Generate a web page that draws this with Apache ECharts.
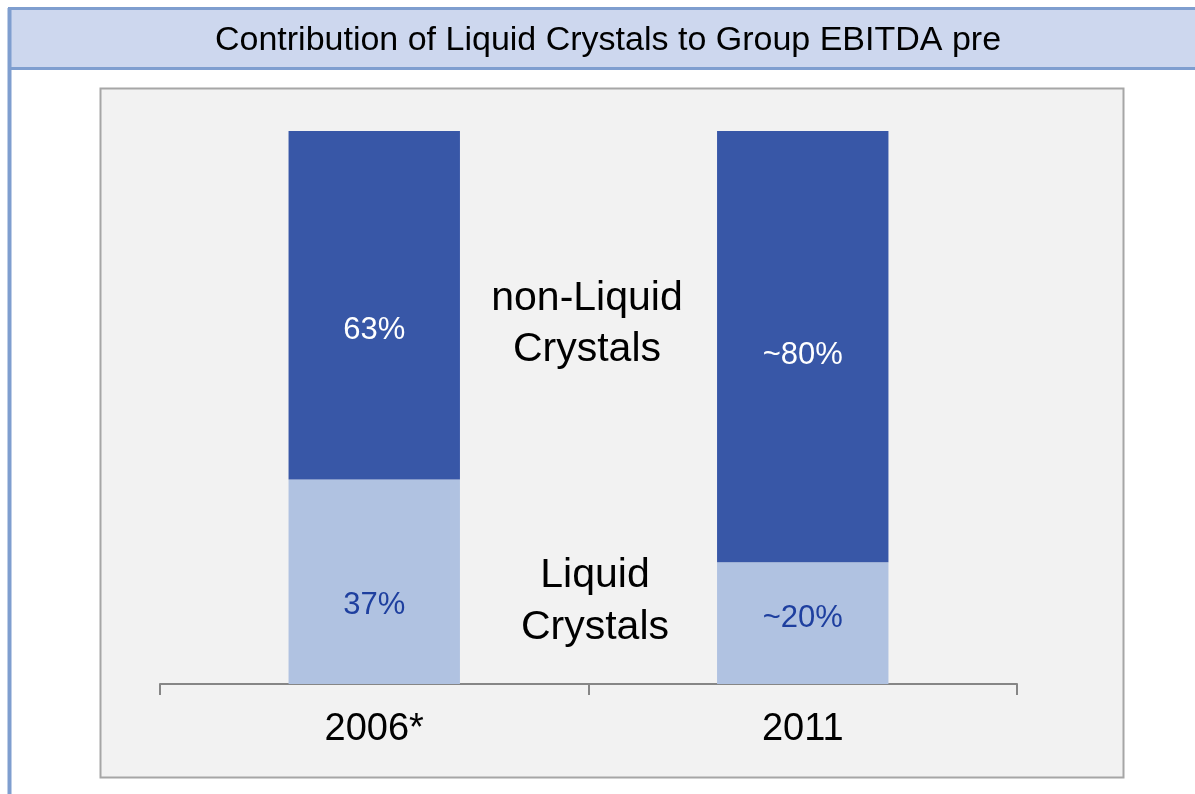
<!DOCTYPE html>
<html>
<head>
<meta charset="utf-8">
<script src="https://cdn.jsdelivr.net/npm/echarts@6/dist/echarts.min.js"></script>
<style>
  html, body { margin: 0; padding: 0; background: #fff; }
  #chart { width: 1195px; height: 794px; }
</style>
</head>
<body>
<div id="chart"></div>
<script>
const categories = ['2006*', '2011'];
const lcShare = [37, 22];
const nonLcShare = [63, 78];
const lcLabels = ['37%', '~20%'];
const nonLcLabels = ['63%', '~80%'];
const titleText = 'Contribution of Liquid Crystals to Group EBITDA pre';

const FONT = '"Liberation Sans", Arial, sans-serif';
const chart = echarts.init(document.getElementById('chart'));

// label offsets (px) so text sits where the original slide has it
const nonLcOffsets = [25, 9];
const lcOffsets = [24, -5];

const option = {
    animation: false,
    backgroundColor: '#ffffff',
    textStyle: { fontFamily: FONT },
    grid: { left: 160, right: 178, top: 131, bottom: 110 },
    xAxis: {
        type: 'category',
        data: categories,
        axisLine: { lineStyle: { color: '#868686', width: 2 } },
        axisTick: { show: true, length: 11, lineStyle: { color: '#868686', width: 2 } },
        axisLabel: { color: '#000', fontSize: 38, fontFamily: FONT, margin: 27 }
    },
    yAxis: { type: 'value', min: 0, max: 100, show: false },
    graphic: [
        // gray plot box
        { type: 'rect', z: -10, shape: { x: 100.5, y: 88.5, width: 1023, height: 689 },
          style: { fill: '#F2F2F2', stroke: '#A6A6A6', lineWidth: 2 } },
        // title bar
        { type: 'rect', z: 10, shape: { x: 9.5, y: 8.5, width: 1200, height: 60 },
          style: { fill: '#CDD7EE', stroke: '#7F9ECF', lineWidth: 3 } },
        // left frame line
        { type: 'line', z: 10, shape: { x1: 9.5, y1: 8, x2: 9.5, y2: 800 },
          style: { stroke: '#7F9ECF', lineWidth: 4 } },
        { type: 'text', z: 11, x: 608, y: 41,
          style: { text: titleText, font: '34px ' + FONT, fill: '#000',
                   textAlign: 'center', textVerticalAlign: 'middle' } },
        { type: 'text', z: 11, x: 587, y: 324,
          style: { text: 'non-Liquid\nCrystals', font: '41px ' + FONT, fill: '#000',
                   lineHeight: 51, textAlign: 'center', textVerticalAlign: 'middle' } },
        { type: 'text', z: 11, x: 595, y: 602,
          style: { text: 'Liquid\nCrystals', font: '41px ' + FONT, fill: '#000',
                   lineHeight: 52, textAlign: 'center', textVerticalAlign: 'middle' } }
    ],
    series: [
        {
            name: 'Liquid Crystals',
            type: 'bar',
            stack: 'total',
            barWidth: '40%',
            itemStyle: { color: '#B0C2E1' },
            data: lcShare.map((v, i) => ({
                value: v,
                label: {
                    show: true, position: 'inside', formatter: lcLabels[i],
                    offset: [0, lcOffsets[i]], color: '#1E3F9F', fontSize: 31, fontFamily: FONT
                }
            }))
        },
        {
            name: 'non-Liquid Crystals',
            type: 'bar',
            stack: 'total',
            barWidth: '40%',
            itemStyle: { color: '#3857A7' },
            data: nonLcShare.map((v, i) => ({
                value: v,
                label: {
                    show: true, position: 'inside', formatter: nonLcLabels[i],
                    offset: [0, nonLcOffsets[i]], color: '#ffffff', fontSize: 31, fontFamily: FONT
                }
            }))
        }
    ]
};

chart.setOption(option);
window.addEventListener('resize', function () {
    chart.resize();
});
</script>
</body>
</html>
